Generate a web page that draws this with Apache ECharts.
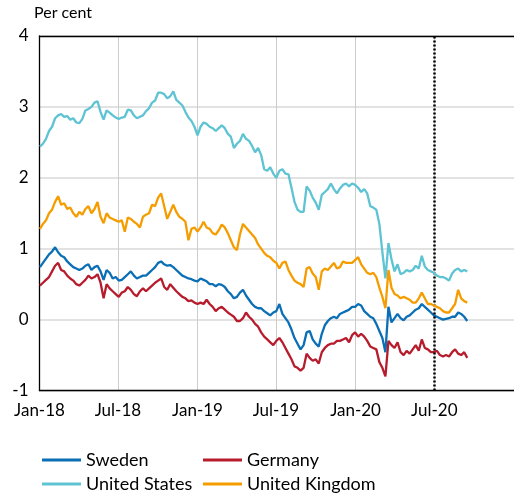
<!DOCTYPE html>
<html>
<head>
<meta charset="utf-8">
<script src="https://cdn.jsdelivr.net/npm/echarts@6/dist/echarts.min.js"></script>
<style>
html,body{margin:0;padding:0;background:#fff;}
#chart{width:514px;height:493px;}
</style>
</head>
<body>
<div id="chart"></div>
<script>
// Axis range (daily categories) and weekly observation start
const AXIS_START = '2018-01-01';
const AXIS_END = '2021-01-01';
const OBS_START = '2018-01-02';
const OBS_STEP_DAYS = 7;
const MARKER_DATE = '2020-07-01';
const MONTH_LABELS = {'01': 'Jan', '07': 'Jul'};

const seriesNames = ['Sweden', 'Germany', 'United States', 'United Kingdom'];

// 10-year government bond yields, per cent (weekly readings)
const sweden = [
0.74,0.80,0.86,0.92,0.96,1.02,0.95,0.90,0.88,0.82,0.78,0.74,0.72,0.70,0.72,0.76,0.78,0.70,0.74,0.76,
0.68,0.56,0.70,0.66,0.58,0.60,0.55,0.56,0.60,0.64,0.68,0.62,0.58,0.60,0.62,0.62,0.66,0.70,0.74,0.80,
0.82,0.78,0.76,0.77,0.74,0.70,0.66,0.62,0.60,0.58,0.57,0.55,0.54,0.58,0.56,0.54,0.50,0.50,0.47,0.50,
0.49,0.46,0.40,0.36,0.30,0.32,0.38,0.42,0.34,0.28,0.22,0.18,0.16,0.16,0.12,0.09,0.06,0.10,0.12,0.22,
0.08,0.02,-0.04,-0.14,-0.26,-0.34,-0.42,-0.36,-0.18,-0.16,-0.28,-0.34,-0.38,-0.20,-0.08,-0.02,0.02,0.04,0.02,0.08,
0.10,0.12,0.14,0.18,0.18,0.22,0.20,0.12,0.08,0.04,0.02,-0.06,-0.16,-0.26,-0.46,0.18,-0.04,0.02,0.08,0.02,
-0.01,0.04,0.06,0.10,0.14,0.16,0.22,0.18,0.14,0.10,0.06,0.04,0.02,0.00,0.01,0.02,0.04,0.04,0.10,0.08,
0.04,-0.02];
const germany = [
0.48,0.52,0.56,0.60,0.68,0.76,0.80,0.70,0.68,0.62,0.58,0.55,0.50,0.48,0.52,0.56,0.62,0.58,0.60,0.64,
0.52,0.30,0.50,0.44,0.40,0.36,0.32,0.38,0.40,0.46,0.42,0.36,0.33,0.40,0.44,0.40,0.44,0.48,0.52,0.55,
0.58,0.46,0.42,0.50,0.45,0.40,0.36,0.32,0.30,0.26,0.27,0.24,0.22,0.24,0.22,0.28,0.22,0.18,0.12,0.16,
0.18,0.14,0.10,0.07,0.04,-0.02,-0.02,0.02,0.10,0.04,0.00,-0.06,-0.10,-0.18,-0.24,-0.28,-0.32,-0.36,-0.30,-0.26,
-0.32,-0.40,-0.48,-0.56,-0.66,-0.68,-0.72,-0.68,-0.48,-0.54,-0.58,-0.56,-0.62,-0.46,-0.40,-0.36,-0.34,-0.34,-0.30,-0.30,
-0.28,-0.26,-0.32,-0.22,-0.18,-0.24,-0.20,-0.24,-0.30,-0.38,-0.40,-0.42,-0.60,-0.68,-0.80,-0.30,-0.36,-0.40,-0.32,-0.46,
-0.50,-0.44,-0.48,-0.42,-0.36,-0.44,-0.28,-0.40,-0.42,-0.46,-0.46,-0.44,-0.50,-0.52,-0.50,-0.52,-0.46,-0.42,-0.48,-0.50,
-0.46,-0.54];
const unitedStates = [
2.44,2.48,2.55,2.66,2.72,2.84,2.88,2.90,2.86,2.87,2.82,2.84,2.78,2.77,2.83,2.95,2.97,3.00,3.06,3.08,
2.93,2.82,2.95,2.92,2.88,2.85,2.83,2.85,2.86,2.96,2.95,2.88,2.84,2.86,2.88,2.94,2.98,3.06,3.09,3.20,
3.20,3.18,3.12,3.15,3.22,3.10,3.06,3.02,2.93,2.85,2.80,2.72,2.60,2.72,2.78,2.76,2.72,2.70,2.66,2.70,
2.74,2.70,2.62,2.58,2.42,2.48,2.52,2.62,2.55,2.52,2.45,2.36,2.42,2.32,2.12,2.10,2.15,2.06,2.00,2.10,
2.12,2.06,2.05,1.86,1.66,1.55,1.52,1.52,1.88,1.82,1.72,1.65,1.55,1.76,1.80,1.84,1.92,1.84,1.78,1.85,
1.90,1.92,1.88,1.92,1.90,1.86,1.80,1.84,1.78,1.60,1.58,1.55,1.35,0.95,0.58,1.08,0.85,0.68,0.78,0.64,
0.66,0.70,0.68,0.70,0.76,0.72,0.90,0.75,0.70,0.68,0.66,0.62,0.60,0.60,0.58,0.55,0.65,0.70,0.72,0.68,
0.70,0.68];
const unitedKingdom = [
1.28,1.35,1.40,1.50,1.55,1.66,1.74,1.62,1.64,1.56,1.58,1.50,1.45,1.52,1.48,1.56,1.60,1.50,1.56,1.66,
1.45,1.36,1.50,1.44,1.42,1.40,1.38,1.40,1.24,1.44,1.42,1.38,1.35,1.30,1.45,1.48,1.50,1.62,1.60,1.72,
1.78,1.60,1.42,1.52,1.62,1.52,1.45,1.42,1.38,1.12,1.28,1.30,1.24,1.30,1.38,1.30,1.28,1.22,1.20,1.26,
1.34,1.30,1.22,1.12,1.02,0.98,1.20,1.35,1.30,1.25,1.20,1.15,1.06,1.00,0.94,0.90,0.88,0.83,0.80,0.72,
0.80,0.82,0.70,0.62,0.55,0.52,0.50,0.46,0.72,0.74,0.65,0.60,0.42,0.68,0.72,0.70,0.75,0.80,0.72,0.74,
0.82,0.80,0.80,0.80,0.84,0.88,0.78,0.72,0.66,0.64,0.66,0.60,0.45,0.32,0.16,0.70,0.45,0.36,0.34,0.30,
0.32,0.30,0.28,0.24,0.24,0.30,0.38,0.30,0.22,0.22,0.20,0.18,0.16,0.12,0.10,0.10,0.16,0.22,0.42,0.30,
0.26,0.24];

const seriesValues = [sweden, germany, unitedStates, unitedKingdom];
const seriesColors = ['#0b6fb6', '#b71c2c', '#5ec3d3', '#f59d00'];

// y axis
const Y_MIN = -1, Y_MAX = 4, Y_STEP = 1;

const DAY = 86400000;
function toStr(t){ return new Date(t).toISOString().slice(0,10); }
const t0 = Date.parse(AXIS_START + 'T00:00:00Z');
const t1 = Date.parse(AXIS_END + 'T00:00:00Z');
const days = [];
for (let t = t0; t <= t1; t += DAY) days.push(toStr(t));
const dayIndex = {};
days.forEach((d, i) => { dayIndex[d] = i; });
const lastIdx = days.length - 1;

const obsStartIdx = dayIndex[OBS_START];
function buildData(vals){
  return vals.map((v, i) => [obsStartIdx + i * OBS_STEP_DAYS, v]);
}
function isHalfYear(val){ return /-(01|07)-01$/.test(val); }

const FONT = 'Lato';

const chart = echarts.init(document.getElementById('chart'), null, {renderer: 'canvas'});
const series = seriesNames.map((name, k) => ({
  name: name,
  type: 'line',
  data: buildData(seriesValues[k]),
  showSymbol: false,
  symbol: 'none',
  lineStyle: {width: 2.3, color: seriesColors[k]},
  itemStyle: {color: seriesColors[k]},
  color: seriesColors[k],
  z: 3 + k
}));
series[0].markLine = {
  silent: true,
  symbol: 'none',
  label: {show: false},
  lineStyle: {color: '#000', type: [2, 2], width: 2.5},
  data: [{xAxis: dayIndex[MARKER_DATE]}]
};

chart.setOption({
  animation: false,
  backgroundColor: '#fff',
  textStyle: {fontFamily: FONT},
  graphic: [{
    type: 'text', left: 34, top: 5,
    style: {text: 'Per cent', fontFamily: FONT, fontSize: 16, fill: '#000'}
  }],
  grid: {left: 39.5, right: 0, top: 36, bottom: 102.5, containLabel: false},
  xAxis: [{
    type: 'category',
    data: days,
    boundaryGap: false,
    axisLine: {show: true, onZero: false, lineStyle: {color: '#000', width: 1.3}},
    axisTick: {show: false},
    axisLabel: {
      interval: (i, v) => isHalfYear(v) && i !== lastIdx,
      formatter: v => MONTH_LABELS[v.slice(5,7)] + '-' + v.slice(2,4),
      fontFamily: FONT, fontSize: 17, color: '#000', margin: 12
    },
    splitLine: {
      show: true,
      interval: (i, v) => isHalfYear(v) && i !== 0 && i !== lastIdx,
      lineStyle: {color: '#cccccc', width: 1}
    }
  }, {
    type: 'category',
    data: days,
    position: 'top',
    boundaryGap: false,
    axisLine: {show: true, onZero: false, lineStyle: {color: '#000', width: 1.3}},
    axisTick: {show: false},
    axisLabel: {show: false},
    splitLine: {show: false}
  }],
  yAxis: {
    type: 'value',
    min: Y_MIN, max: Y_MAX, interval: Y_STEP,
    axisLine: {show: true, onZero: false, lineStyle: {color: '#000', width: 1.3}},
    axisTick: {show: false},
    axisLabel: {fontFamily: FONT, fontSize: 17, color: '#000', margin: 11},
    splitLine: {show: true, lineStyle: {color: '#d9d9d9', width: 1.5}}
  },
  legend: [{
    data: ['Sweden', 'United States'],
    orient: 'vertical', left: 42, top: 451, padding: 0,
    icon: 'rect', itemWidth: 39, itemHeight: 3, itemGap: 6,
    textStyle: {fontFamily: FONT, fontSize: 18, lineHeight: 18, color: '#000'}
  }, {
    data: ['Germany', 'United Kingdom'],
    orient: 'vertical', left: 203, top: 451, padding: 0,
    icon: 'rect', itemWidth: 39, itemHeight: 3, itemGap: 6,
    textStyle: {fontFamily: FONT, fontSize: 18, lineHeight: 18, color: '#000'}
  }],
  series: series
});
</script>
</body>
</html>
